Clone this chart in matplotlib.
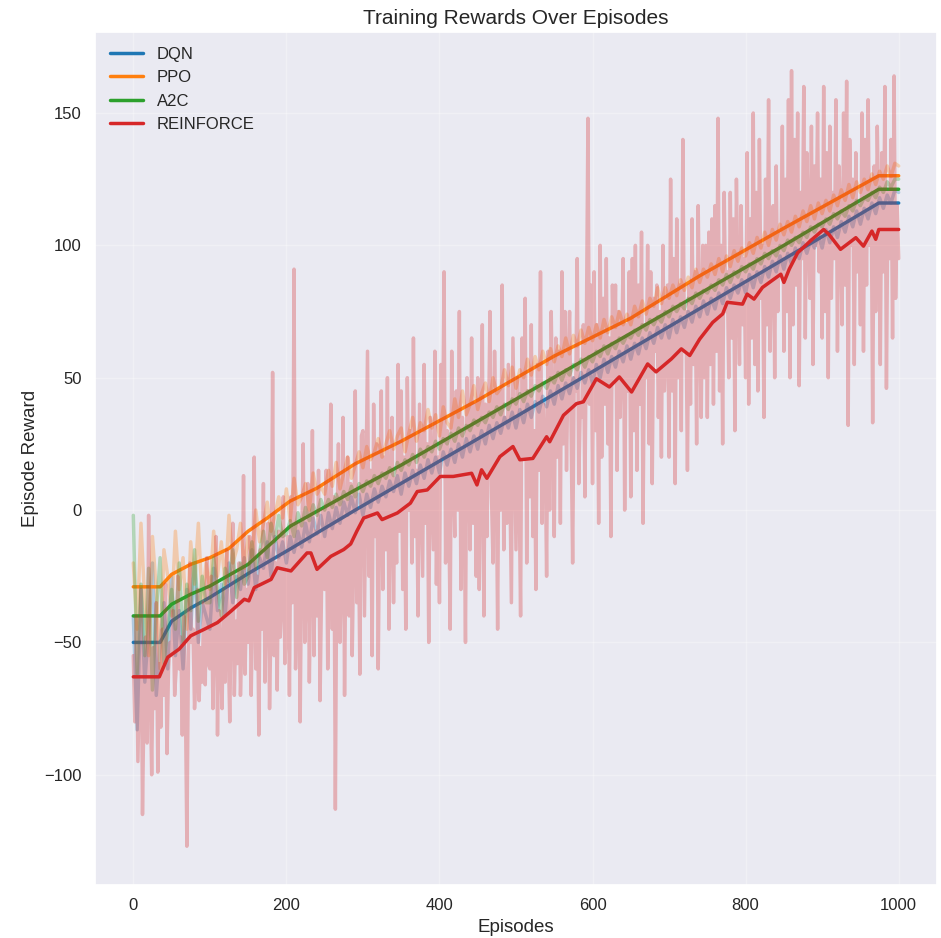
import numpy as np
import matplotlib
matplotlib.use("Agg")
import matplotlib.pyplot as plt
import seaborn as sns

# raw rewards for DQN / PPO / A2C, sampled every 5 episodes
episodes_raw = np.arange(0, 1001, 5)
# REINFORCE is much noisier, sampled every 2 episodes
episodes_reinforce = np.arange(0, 1001, 2)

dqn_raw = [
    -40, -83, -30, -65, -45, -20, -70, -50, -35, -60,
    -25, -55, -38, -60, -30, -45, -20, -50, -35, -40,
    -45, -22, -38, -28, -40, -20, -35, -25, -30, -18,
    -28, -15, -30, -18, -22, -12, -25, -10, -18, -12,
    -20, -10, -16, -8, -14, -5, -12, -3, -9, -2,
    -10, -1, -7, 1, -5, 3, -2, 5, -1, 6,
    -2, 6, 1, 8, 3, 9, 5, 11, 7, 13,
    6, 14, 9, 15, 10, 17, 12, 19, 14, 20,
    14, 22, 17, 23, 18, 25, 20, 27, 22, 28,
    23, 30, 25, 32, 27, 33, 29, 35, 31, 37,
    31, 38, 33, 40, 35, 41, 37, 43, 39, 45,
    40, 47, 42, 48, 44, 50, 46, 52, 48, 53,
    48, 55, 50, 57, 52, 58, 54, 60, 56, 62,
    57, 63, 59, 65, 61, 67, 63, 69, 65, 70,
    65, 72, 67, 73, 69, 75, 71, 77, 73, 79,
    74, 80, 76, 82, 78, 84, 80, 85, 82, 87,
    82, 89, 84, 90, 86, 92, 88, 94, 90, 96,
    91, 97, 93, 99, 95, 101, 97, 102, 99, 104,
    99, 106, 101, 107, 103, 109, 105, 111, 107, 113,
    108, 114, 110, 116, 112, 118, 114, 119, 116, 121,
    120,
]

ppo_raw = [
    -20, -45, -5, -35, -55, -10, -30, -60, -15, -25,
    -40, -8, -30, -18, -45, -12, -28, -5, -35, -20,
    -30, -8, -25, -12, -28, -2, -20, -15, -5, -22,
    -10, -18, 0, -12, -5, 3, -8, -2, 5, -3,
    8, -4, 12, 2, 5, 10, 0, 14, 6, 9,
    6, 15, 9, 18, 8, 14, 20, 12, 17, 22,
    16, 24, 19, 22, 27, 20, 25, 30, 23, 28,
    31, 22, 29, 35, 26, 33, 30, 38, 31, 36,
    28, 39, 33, 31, 42, 35, 45, 36, 40, 47,
    38, 44, 48, 41, 50, 44, 46, 53, 47, 54,
    46, 53, 50, 57, 51, 58, 53, 60, 55, 61,
    56, 62, 58, 65, 59, 66, 62, 68, 63, 69,
    64, 70, 65, 72, 67, 73, 69, 75, 70, 74,
    70, 77, 73, 79, 74, 80, 77, 84, 78, 84,
    80, 85, 81, 87, 83, 88, 84, 91, 86, 91,
    88, 93, 89, 95, 90, 96, 92, 98, 94, 99,
    96, 101, 97, 103, 99, 105, 100, 106, 102, 108,
    104, 109, 105, 111, 107, 113, 109, 115, 110, 116,
    112, 117, 113, 119, 115, 121, 117, 123, 118, 124,
    120, 125, 121, 127, 123, 128, 125, 130, 126, 131,
    130,
]

a2c_raw = [
    -2, -62, -28, -55, -22, -68, -38, -18, -58, -45,
    -30, -45, -20, -50, -28, -38, -15, -42, -25, -35,
    -35, -18, -30, -40, -22, -27, -15, -33, -20, -28,
    -25, -12, -22, -16, -8, -18, -5, -12, -2, -10,
    -9, -4, -10, -1, -6, 1, -4, 2, -2, 4,
    0, 4, 1, 6, 2, 7, 4, 9, 5, 10,
    7, 11, 9, 13, 10, 14, 12, 16, 13, 18,
    15, 19, 17, 21, 18, 23, 20, 24, 22, 26,
    23, 27, 25, 29, 26, 31, 28, 32, 30, 34,
    32, 35, 33, 37, 35, 39, 36, 40, 38, 42,
    40, 44, 41, 45, 43, 47, 45, 48, 46, 50,
    48, 52, 49, 53, 51, 55, 53, 57, 54, 58,
    56, 60, 58, 62, 59, 63, 61, 65, 63, 66,
    65, 68, 66, 70, 68, 72, 70, 73, 71, 75,
    73, 77, 75, 78, 76, 80, 78, 82, 80, 83,
    82, 85, 83, 87, 85, 89, 86, 90, 88, 92,
    90, 93, 91, 95, 93, 97, 95, 98, 96, 100,
    98, 102, 100, 103, 101, 105, 103, 107, 105, 108,
    107, 110, 108, 112, 110, 113, 111, 115, 113, 117,
    115, 118, 117, 120, 118, 122, 120, 124, 122, 125,
    125,
]

reinforce_raw = [
    # 0-48
    -55, -80, -40, -95, -62, -30, -115, -70, -48, -88, -2, -66, -100, -52, -75, -35, -99, -58, -82, -45, -70, -28, -92, -60, -50,
    # 50-98
    -55, -38, -70, -60, -25, -60, -48, -85, -40, -70, -127, -55, -20, -50, -45, -75, -62, -30, -72, -52, -65, -35, -66, -18, -58,
    # 100-148
    -60, -25, -75, -45, -10, -85, -38, -55, -75, -30, -65, -15, -50, -80, -35, -5, -70, -42, -58, -20, -70, -48, 13, -62, -30,
    # 150-198
    -50, -10, -70, -35, 20, -60, -25, -85, -15, -45, 10, -65, -30, -5, -75, -40, 52, -55, -20, -68, -8, -48, -35, 5, -58,
    # 200-248
    -45, -10, -70, 5, -35, 91, -60, -25, -5, -80, -15, 25, -50, -30, 10, -65, -20, 30, -55, -8, -40, 15, -72, -28, 0,
    # 250-298
    -30, 15, -60, -20, 40, -45, 5, -113, -10, 25, -50, -25, 35, -70, -5, 20, -40, 10, -55, -15, 45, -35, 0, -62, 28,
    # 300-348
    30, -40, 10, 60, -25, 15, -55, 40, -10, 25, -60, 5, 45, -30, 20, -15, 50, -45, 0, 35, -35, 12, -20, 55, -8,
    # 350-398
    45, -30, 20, -45, 50, 0, 30, -20, 65, -10, 15, -40, 40, 8, -25, 55, -5, 25, -50, 35, 10, -15, 60, -28, 20,
    # 400-448
    -35, 55, 20, 90, -20, 30, 5, -45, 60, 15, -10, 45, 0, 75, -30, 35, 10, -50, 50, 25, -15, 65, -5, 40, -25,
    # 450-498
    50, -30, 15, 70, -40, 40, -10, 30, 75, 5, -20, 60, 20, -45, 45, 0, 85, -15, 35, -5, 55, 10, -35, 65, 25,
    # 500-548
    -15, 50, 10, -40, 65, 20, 80, -20, 45, 5, 70, -10, 30, -30, 55, 15, 90, -5, 40, 25, -25, 60, 0, 75, 35,
    # 550-598
    -10, 65, 20, 60, -5, 90, 25, 75, 15, 55, 75, 30, -20, 50, 45, 95, 10, 40, 35, 70, 5, 70, 148, 40, 85,
    # 600-648
    10, 90, 30, 70, -5, 100, 20, 80, 40, 95, 25, 65, -10, 85, 50, 85, 15, 75, 35, 60, 95, 0, 70, 45, 90,
    # 650-698
    5, 95, 30, 100, 15, 85, 40, 105, -5, 70, 50, 100, 25, 90, 10, 80, 60, 85, 35, 75, 20, 100, 45, 65, 85,
    # 700-748
    20, 125, 45, 95, 10, 110, 50, 85, 30, 140, 60, 75, 15, 85, 40, 110, 55, 90, 25, 115, 70, 35, 100, 50, 100,
    # 750-798
    35, 105, 55, 110, 40, 115, 60, 148, 45, 100, 25, 120, 75, 90, 50, 120, 65, 110, 30, 125, 85, 55, 115, 70, 95,
    # 800-848
    50, 135, 40, 110, 65, 150, 55, 120, 45, 140, 80, 100, 35, 125, 70, 155, 60, 95, 115, 50, 130, 75, 105, 90, 145,
    # 850-898
    60, 125, 75, 155, 50, 166, 70, 140, 85, 150, 47, 120, 95, 160, 65, 135, 110, 80, 145, 55, 130, 100, 150, 90, 125,
    # 900-948
    65, 160, 75, 135, 50, 145, 80, 120, 95, 155, 60, 130, 110, 70, 150, 85, 162, 32, 140, 100, 125, 55, 135, 90, 115,
    # 950-998
    70, 150, 60, 140, 85, 155, 100, 125, 33, 130, 75, 145, 110, 55, 135, 90, 160, 46, 120, 95, 140, 65, 164, 80, 115,
    # 1000
    95,
]

# smoothed curves (moving average)
dqn_smooth_ep = [0, 35, 50, 75, 100, 150, 205, 290, 400, 500, 600, 700, 800, 900, 974, 1000]
dqn_smooth = [-50, -50, -42, -37, -33, -24, -14.7, 0, 18.5, 35.3, 52.3, 69.3, 86.3, 103.3, 116, 116]

ppo_smooth_ep = [0, 35, 50, 75, 100, 125, 150, 175, 205, 240, 290, 350, 450, 550, 650, 740, 850, 974, 1000]
ppo_smooth = [-29, -29, -24.3, -20.5, -18, -14.5, -8, -3, 3.4, 8.3, 17.5, 26, 41.5, 58.2, 72.5, 88.5, 106.5, 126.3, 126.3]

a2c_smooth_ep = [0, 35, 50, 75, 100, 150, 205, 290, 350, 450, 550, 650, 740, 850, 974, 1000]
a2c_smooth = [-40, -40, -35.6, -31.8, -28.7, -20.5, -6.1, 7.6, 17, 33.6, 50.2, 66.8, 81.8, 100, 121.2, 121.2]

reinforce_smooth_ep = [
    0, 34, 45, 60, 75, 93, 110, 128, 145, 151, 158, 180, 188, 206, 227, 232, 240,
    258, 275, 284, 292, 301, 319, 325, 345, 362, 371, 384, 401, 418, 442, 449, 455,
    462, 479, 496, 505, 522, 540, 544, 562, 579, 588, 605, 622, 635, 651, 672, 683,
    703, 716, 727, 740, 757, 770, 776, 796, 802, 811, 822, 846, 850, 857, 868, 887,
    902, 909, 924, 944, 954, 965, 970, 974, 1000,
]
reinforce_smooth = [
    -63, -63, -55.6, -52.5, -47.5, -45, -42.5, -38.1, -33.7, -34.3, -29.3, -26.2, -21.8,
    -23, -16.2, -16.2, -22.4, -17.5, -14.9, -12.8, -8, -3, -1.1, -3.6, -1.1, 2.6, 7,
    7.6, 12.7, 12.7, 13.9, 9.5, 15.2, 12, 20.2, 24, 19, 19.5, 27.7, 25.8, 35.8, 40.2,
    40.9, 49.6, 46.5, 50.3, 44.6, 55.2, 52.2, 57.1, 60.9, 58.4, 64.6, 70.9, 74.1, 78.5,
    77.8, 81.6, 79.7, 84.1, 89.1, 86, 91, 97.2, 102.3, 106, 104.1, 98.5, 102.9, 99.7,
    105.4, 102.3, 106, 106,
]

algos = ["DQN", "PPO", "A2C", "REINFORCE"]
colors = ["#1f77b4", "#ff7f0e", "#2ca02c", "#d62728"]
raws = [(episodes_raw, dqn_raw), (episodes_raw, ppo_raw),
        (episodes_raw, a2c_raw), (episodes_reinforce, reinforce_raw)]
smooths = [(dqn_smooth_ep, dqn_smooth), (ppo_smooth_ep, ppo_smooth),
           (a2c_smooth_ep, a2c_smooth), (reinforce_smooth_ep, reinforce_smooth)]

sns.set_theme(style="darkgrid")
plt.rcParams['font.family'] = ['Liberation Sans', 'DejaVu Sans']

fig, ax = plt.subplots(figsize=(9.41, 9.38), dpi=100)
fig.subplots_adjust(left=0.101, right=0.9957, top=0.966, bottom=0.0565)

for name, c, (rx, ry), (sx, sy) in zip(algos, colors, raws, smooths):
    ax.plot(rx, ry, color=c, alpha=0.3, linewidth=2.5)
    ax.plot(sx, sy, color=c, linewidth=2.5, label=name)

ax.set_title("Training Rewards Over Episodes", fontsize=15)
ax.set_xlabel("Episodes", fontsize=13.5)
ax.set_ylabel("Episode Reward", fontsize=13.5)
ax.tick_params(labelsize=12)
ax.grid(True, alpha=0.3)
ax.legend(loc="upper left", fontsize=12, frameon=False)

fig.savefig("out.png", dpi=100)
